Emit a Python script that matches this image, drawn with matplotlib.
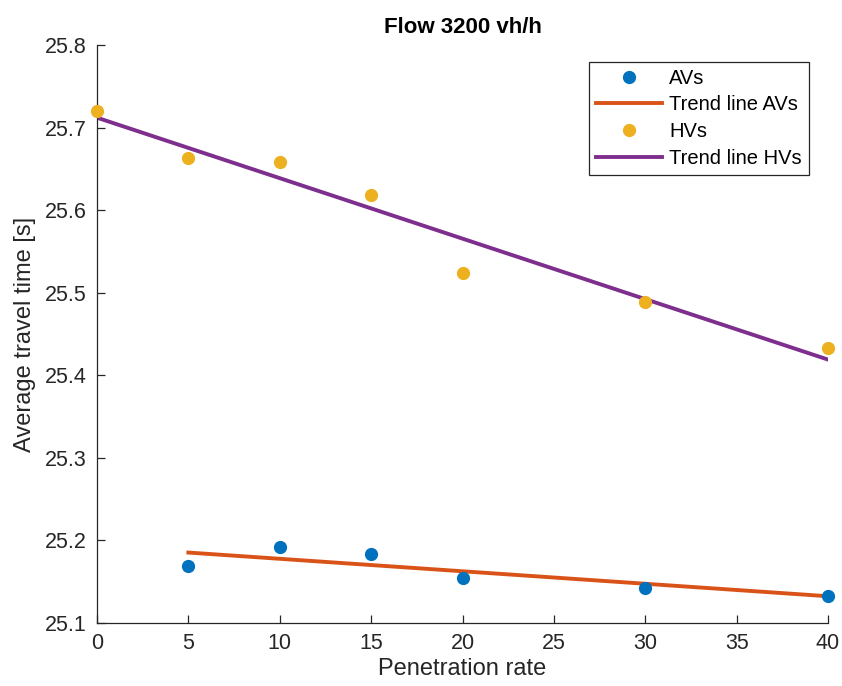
import numpy as np
import matplotlib
matplotlib.use("Agg")
import matplotlib.pyplot as plt

plt.rcParams['font.family'] = ['Liberation Sans', 'DejaVu Sans']

# penetration rate [%]
pen_av = [5, 10, 15, 20, 30, 40]
pen_hv = [0, 5, 10, 15, 20, 30, 40]

# average travel time [s]
tt_av = [25.169, 25.192, 25.184, 25.155, 25.143, 25.133]
tt_hv = [25.720, 25.663, 25.658, 25.618, 25.524, 25.489, 25.433]

c_av = "#0072BD"
c_av_trend = "#D95319"
c_hv = "#EDB120"
c_hv_trend = "#7E2F8E"
axis_col = "#262626"

# linear trend lines
p_av = np.polyfit(pen_av, tt_av, 1)
p_hv = np.polyfit(pen_hv, tt_hv, 1)
x_av = np.array([min(pen_av), max(pen_av)])
x_hv = np.array([min(pen_hv), max(pen_hv)])

fig = plt.figure(figsize=(8.42, 6.86), dpi=100)
ax = fig.add_axes([0.1152, 0.0918, 0.8682, 0.8426])

ax.plot(pen_av, tt_av, 'o', color=c_av, markersize=8.5, label="AVs", clip_on=False, zorder=3)
ax.plot(x_av, np.polyval(p_av, x_av), '-', color=c_av_trend, linewidth=2.8, label="Trend line AVs")
ax.plot(pen_hv, tt_hv, 'o', color=c_hv, markersize=8.5, label="HVs", clip_on=False, zorder=3)
ax.plot(x_hv, np.polyval(p_hv, x_hv), '-', color=c_hv_trend, linewidth=2.8, label="Trend line HVs")

ax.set_xlim(0, 40)
ax.set_ylim(25.1, 25.8)
ax.set_xticks(range(0, 41, 5))
yt = np.arange(25.1, 25.81, 0.1)
ax.set_yticks(yt)
ax.set_yticklabels([f"{v:.1f}" for v in yt])

for s in ['top', 'right']:
    ax.spines[s].set_visible(False)
for s in ['left', 'bottom']:
    ax.spines[s].set_color(axis_col)
    ax.spines[s].set_linewidth(0.9)
ax.tick_params(direction='in', length=6, width=0.9, colors=axis_col, labelsize=15.5)
ax.tick_params(axis='x', pad=7)
ax.tick_params(axis='y', pad=7.5)

ax.set_title("Flow 3200 vh/h", fontsize=16, fontweight='bold', color='black', pad=9)
ax.set_xlabel("Penetration rate", fontsize=17, color=axis_col, labelpad=3)
ax.set_ylabel("Average travel time [s]", fontsize=17, color=axis_col, labelpad=6)

leg = ax.legend(loc='upper right', bbox_to_anchor=(0.974, 0.971), borderaxespad=0,
                fontsize=14.5, frameon=True, fancybox=False, edgecolor=axis_col,
                framealpha=1, handlelength=3.3, borderpad=0.35, labelspacing=0.38,
                handletextpad=0.35)
leg.get_frame().set_linewidth(0.9)

fig.savefig("out.png", dpi=100)
